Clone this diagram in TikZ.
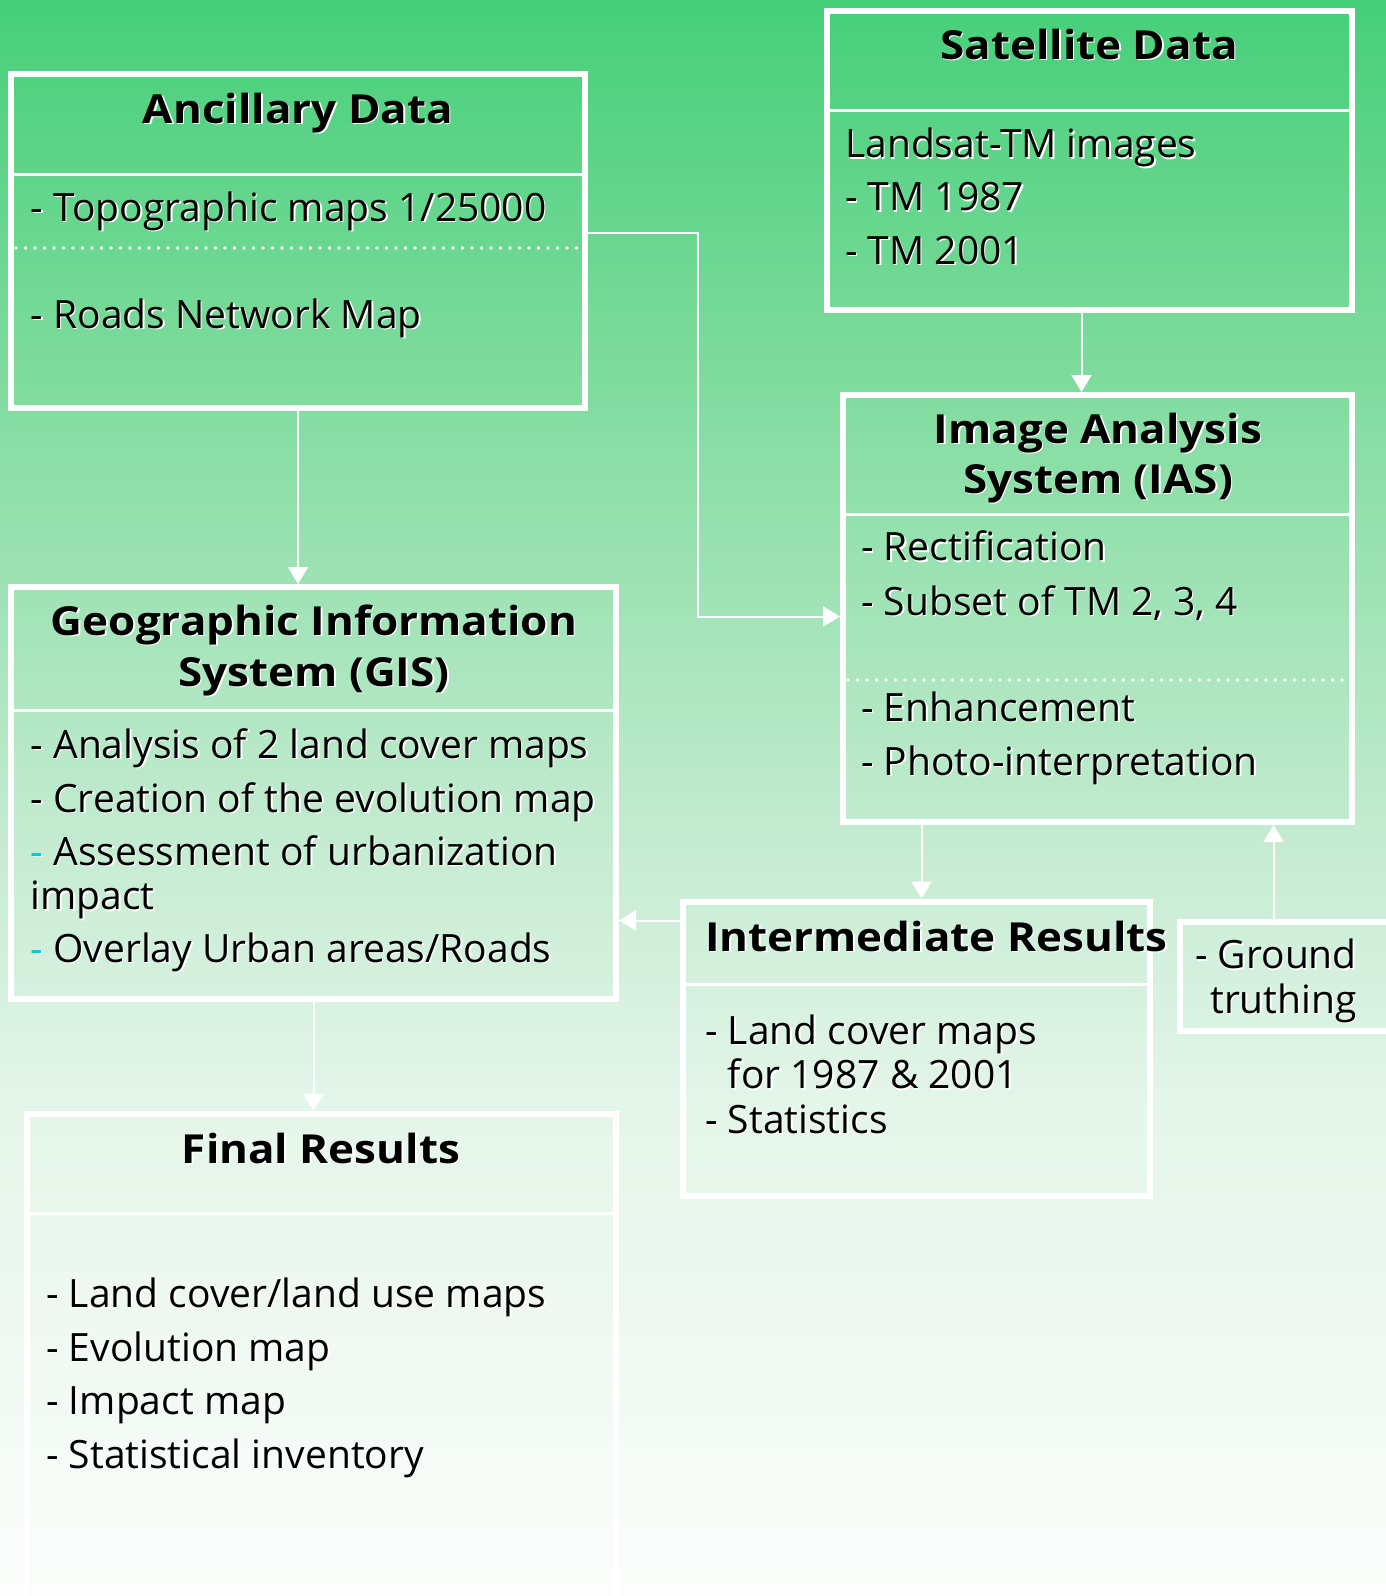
\documentclass[tikz,border=0pt]{standalone}
\usepackage{fontspec}
\setmainfont{Open Sans}
\newfontfamily\ttlfont[FakeStretch=1.1]{Open Sans}
\usetikzlibrary{arrows.meta,calc}
\definecolor{bgtop}{RGB}{70,207,121}
\definecolor{bga}{RGB}{130,220,160}
\definecolor{bgb}{RGB}{195,235,208}
\definecolor{bgc}{RGB}{228,245,233}
\definecolor{bgbot}{RGB}{252,253,252}
\definecolor{dashc}{RGB}{0,200,215}
\pgfdeclareverticalshading{bgshade}{100bp}{color(0bp)=(bgbot); color(25bp)=(bgbot); color(40.5bp)=(bgc); color(49bp)=(bgb); color(62.5bp)=(bga); color(75bp)=(bgtop); color(100bp)=(bgtop)}
\newcommand\dcol{dashc}
\newcommand\cdash{\textcolor{\dcol}{-}}
\newcommand\shd[1]{\leavevmode\rlap{\kern1.5pt\raisebox{-1.5pt}{\renewcommand\dcol{white}\color{white}#1}}#1}
\tikzset{
  box/.style={draw=white, line width=6pt, rectangle, inner sep=0pt, anchor=north west},
  divl/.style={draw=white, line width=3pt},
  dotl/.style={draw=white, line width=3.6pt, line cap=round, dash pattern=on 0pt off 9.5pt},
  conn/.style={draw=white, line width=2pt, -{Triangle[length=17pt,width=20pt]}},
  txt/.style={inner sep=0pt, anchor=base west, font=\fontsize{39}{46}\selectfont},
  ttl/.style={inner sep=0pt, anchor=base, font=\fontsize{40}{46}\selectfont\ttlfont\bfseries},
}
\begin{document}
\begin{tikzpicture}[x=1pt,y=-1pt]
\useasboundingbox (0,0) rectangle (1386,1596);
\clip (0,0) rectangle (1386,1596);
\shade[shading=bgshade] (0,0) rectangle (1386,1596);

% boxes (placed by their outer corner)
\node[box, minimum width=574pt, minimum height=334pt] (anc) at (8,71) {};
\node[box, minimum width=525pt, minimum height=299pt] (sat) at (824,8) {};
\node[box, minimum width=509pt, minimum height=427pt] (ias) at (840,392) {};
\node[box, minimum width=605pt, minimum height=412pt] (gis) at (8,584) {};
\node[box, minimum width=467pt, minimum height=294.5pt] (int) at (680,898.5) {};
\node[box, minimum width=215pt, minimum height=109pt] (gt) at (1177,919) {};
\node[box, minimum width=589pt, minimum height=506pt] (fin) at (24,1111) {};

% dividers
\draw[divl] (11,174) -- (585,174);
\draw[dotl] (16,248) -- (582,248);
\draw[divl] (827,110) -- (1352,110);
\draw[divl] (843,514) -- (1352,514);
\draw[dotl] (848,680) -- (1348,680);
\draw[divl] (11,710) -- (616,710);
\draw[divl] (683,984) -- (1147,984);
\draw[divl] (27,1213) -- (616,1213);

% connectors
\draw[conn] (anc.south) -- (anc.south |- gis.north);
\draw[conn] ([yshift=-162pt]anc.north east) -- ++(110,0) |- ([yshift=-8pt]ias.west);
\draw[conn] ([xshift=-8pt]sat.south) -- ([xshift=-8pt]sat.south |- ias.north);
\draw[conn] ([xshift=5pt]int.north |- ias.south) -- ([xshift=5pt]int.north);
\draw[conn] ([yshift=-22pt]int.north west) -- ([yshift=-22pt]int.north west -| gis.east);
\draw[conn] ([xshift=-14pt]gt.north) -- ([xshift=-14pt]gt.north |- ias.south);
\draw[conn] (gis.south) -- (gis.south |- fin.north);

% Ancillary
\node[ttl] (ancT) at (298,123) {\shd{Ancillary Data}};
\node[txt] (anc1) at (30.5,221) {\shd{- Topographic maps 1/25000}};
\node[txt] (anc2) at (30.5,328) {\shd{- Roads Network Map}};
% Satellite
\node[ttl] (satT) at (1089,59) {\shd{Satellite Data}};
\node[txt] (sat1) at (845,157.5) {\shd{Landsat-TM images}};
\node[txt] (sat2) at (845,210.5) {\shd{- TM 1987}};
\node[txt] (sat3) at (845,264) {\shd{- TM 2001}};
% IAS
\node[ttl] (iasT1) at (1098,443) {\shd{Image Analysis}};
\node[ttl] (iasT2) at (1098,493) {\shd{System (IAS)}};
\node[txt] (ias1) at (861,560.5) {\shd{- Rectification}};
\node[txt] (ias2) at (861,615) {\shd{- Subset of TM 2, 3, 4}};
\node[txt] (ias3) at (861,721) {\shd{- Enhancement}};
\node[txt] (ias4) at (861,775) {\shd{- Photo-interpretation}};
% GIS
\node[ttl] (gisT1) at (314,635) {\shd{Geographic Information}};
\node[ttl] (gisT2) at (314,686) {\shd{System (GIS)}};
\node[txt] (gis1) at (30.5,758) {\shd{- Analysis of 2 land cover maps}};
\node[txt] (gis2) at (30.5,812) {\shd{- Creation of the evolution map}};
\node[txt] (gis3) at (30.5,865) {\shd{\cdash{} Assessment of urbanization}};
\node[txt] (gis4) at (30.5,909.5) {\shd{impact}};
\node[txt] (gis5) at (30.5,962) {\shd{\cdash{} Overlay Urban areas/Roads}};
% Intermediate
\node[ttl, anchor=base west] (intT) at (705,951) {\shd{Intermediate Results}};
\node[txt] (int1) at (705,1044) {\shd{- Land cover maps}};
\node[txt] (int2) at (705,1088.5) {\shd{\hphantom{-\ }for 1987 \& 2001}};
\node[txt] (int3) at (705,1133) {\shd{- Statistics}};
% Ground truthing
\node[txt, anchor=base east] (gt1) at (1357,968.5) {\shd{- Ground}};
\node[txt, anchor=base east] (gt2) at (1357,1013) {\shd{truthing}};
% Final
\node[ttl] (finT) at (321,1163) {\shd{Final Results}};
\node[txt] (fin1) at (46,1307) {\shd{- Land cover/land use maps}};
\node[txt] (fin2) at (46,1361) {\shd{- Evolution map}};
\node[txt] (fin3) at (46,1414) {\shd{- Impact map}};
\node[txt] (fin4) at (46,1468) {\shd{- Statistical inventory}};
\end{tikzpicture}
\end{document}
